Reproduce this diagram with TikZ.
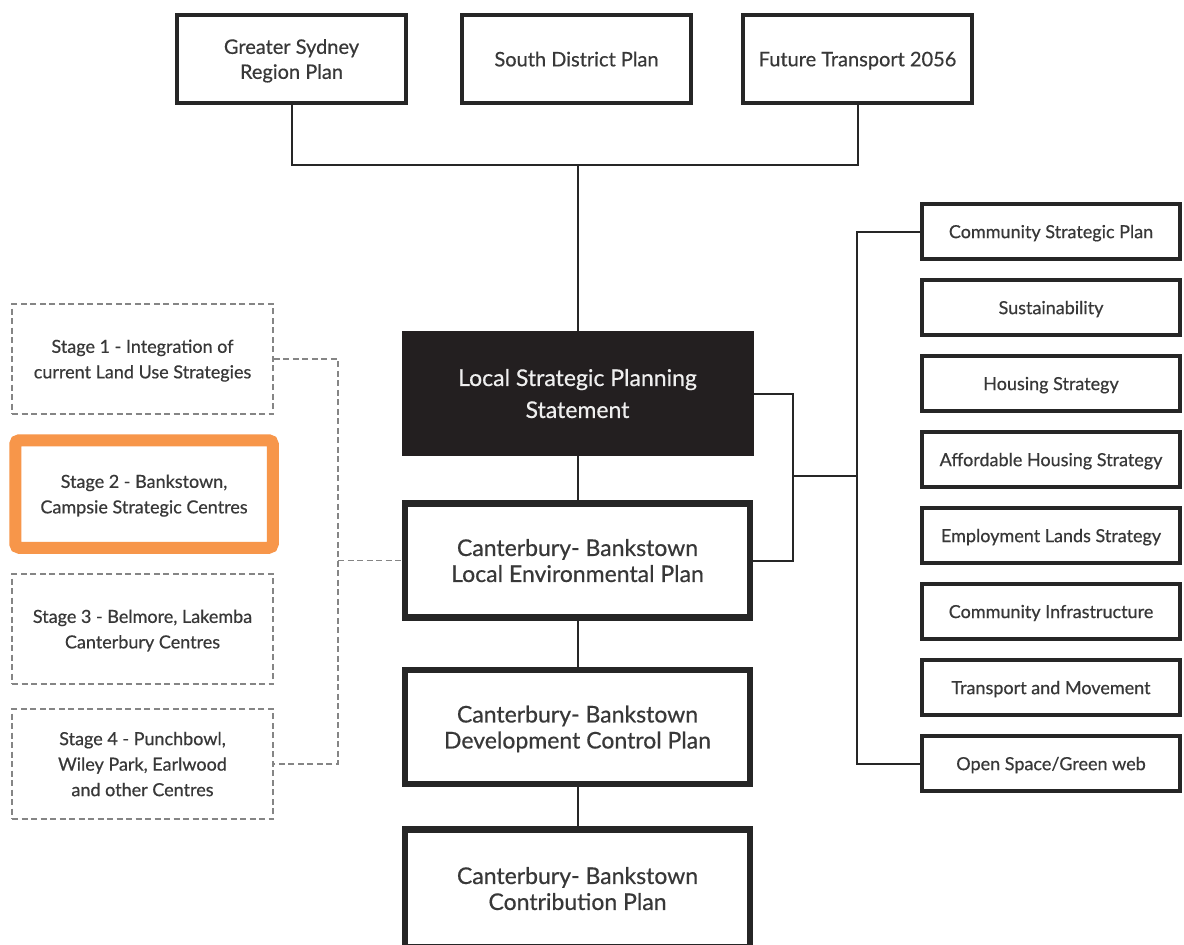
\documentclass[tikz,border=0pt]{standalone}
\usepackage{fontspec}
\setmainfont{Lato}[FakeBold=0.5]
\definecolor{txt}{HTML}{383838}
\definecolor{ln}{HTML}{262626}
\definecolor{dsh}{HTML}{858585}
\definecolor{org}{HTML}{F7964A}
\definecolor{blk}{HTML}{231F20}
\definecolor{wtxt}{HTML}{EFEFEF}
\tikzset{
  topbox/.style={draw=ln, line width=4pt, fill=white, text=txt, align=center,
    minimum width=229pt, minimum height=88pt, inner sep=0pt, text depth=-3pt,
    font={\fontsize{20}{25}\selectfont}},
  midbox/.style={draw=ln, line width=6.5pt, fill=white, text=txt, align=center,
    minimum width=345pt, minimum height=114pt, inner sep=0pt, text depth=-3pt,
    font={\fontsize{23}{26}\selectfont}},
  lspsbox/.style={fill=blk, text=wtxt, align=center,
    minimum width=352pt, minimum height=125pt, inner sep=0pt, text depth=-4pt,
    font={\fontsize{23}{32}\selectfont}},
  rbox/.style={draw=ln, line width=4pt, fill=white, text=txt, align=center,
    minimum width=258pt, minimum height=55pt, inner sep=0pt, text depth=-2.5pt,
    font={\fontsize{18}{22}\selectfont}},
  stagebox/.style={draw=dsh, line width=1.6pt, dash pattern=on 6pt off 3.5pt,
    fill=white, text=txt, align=center, text depth=-3.5pt,
    minimum width=261pt, minimum height=110pt, inner sep=0pt,
    font={\fontsize{18}{25.5}\selectfont}},
  orangebox/.style={draw=org, line width=12pt, rounded corners=4pt, fill=white,
    text=txt, align=center, minimum width=257.5pt, minimum height=107.5pt,
    inner sep=0pt, text depth=-2pt, font={\fontsize{18}{25.5}\selectfont}},
  conn/.style={draw=ln, line width=2pt},
  dconn/.style={draw=dsh, line width=1.6pt, dash pattern=on 6pt off 3.5pt},
}
\begin{document}
\begin{tikzpicture}[x=1pt,y=-1pt]
\useasboundingbox (0,0) rectangle (1184,945);
\clip (0,0) rectangle (1184,945);
\fill[white] (0,0) rectangle (1184,945);

% top boxes
\node[topbox] (gs) at (291.5,59) {Greater Sydney\\Region Plan};
\node[topbox] (sd) at (576.5,59) {South District Plan};
\node[topbox] (ft) at (857.5,59) {Future Transport 2056};

% central column
\node[lspsbox] (lsps) at (577.5,393.5) {Local Strategic Planning\\Statement};
\node[midbox] (lep) at (577.5,560.5) {Canterbury- Bankstown\\Local Environmental Plan};
\node[midbox] (dcp) at (577.5,727) {Canterbury- Bankstown\\Development Control Plan};
\node[midbox, minimum height=118pt] (cp) at (577.5,888.5) {Canterbury- Bankstown\\Contribution Plan};

% right column
\node[rbox] (r1) at (1051,231.5) {Community Strategic Plan};
\node[rbox] (r2) at (1051,307.5) {Sustainability};
\node[rbox] (r3) at (1051,383.5) {Housing Strategy};
\node[rbox] (r4) at (1051,459.5) {Affordable Housing Strategy};
\node[rbox] (r5) at (1051,535.5) {Employment Lands Strategy};
\node[rbox] (r6) at (1051,611.5) {Community Infrastructure};
\node[rbox] (r7) at (1051,687.5) {Transport and Movement};
\node[rbox] (r8) at (1051,763.5) {Open Space/Green web};

% left column
\node[stagebox] (s1) at (142.5,359) {Stage 1 - Integration of\\current Land Use Strategies};
\node[orangebox] (s2) at (144,494) {Stage 2 - Bankstown,\\Campsie Strategic Centres};
\node[stagebox] (s3) at (142.5,629) {Stage 3 - Belmore, Lakemba\\Canterbury Centres};
\node[stagebox] (s4) at (142.5,764) {Stage 4 - Punchbowl,\\Wiley Park, Earlwood\\and other Centres};

% top connectors
\coordinate (tj) at (577.5,165);
\draw[conn] (gs.south) |- (tj) -| (ft.south);
\draw[conn] (tj) -- (lsps.north);

% central connectors
\draw[conn] (lsps.south) -- (lep.north);
\draw[conn] (lep.south) -- (dcp.north);
\draw[conn] (dcp.south) -- (cp.north);

% right connectors
\coordinate (rj) at (793,476);
\coordinate (rb) at (857,476);
\draw[conn] (lsps.east) -| (rj) |- (lep.east);
\draw[conn] (rj) -- (rb);
\draw[conn] (r1.west) -| (rb) |- (r8.west);

% left dashed connectors
\coordinate (lj) at (338,560.5);
\draw[dconn] (s1.east) -| (lj) |- (s4.east);
\draw[dconn] (lj) -- (lep.west);
\end{tikzpicture}
\end{document}
